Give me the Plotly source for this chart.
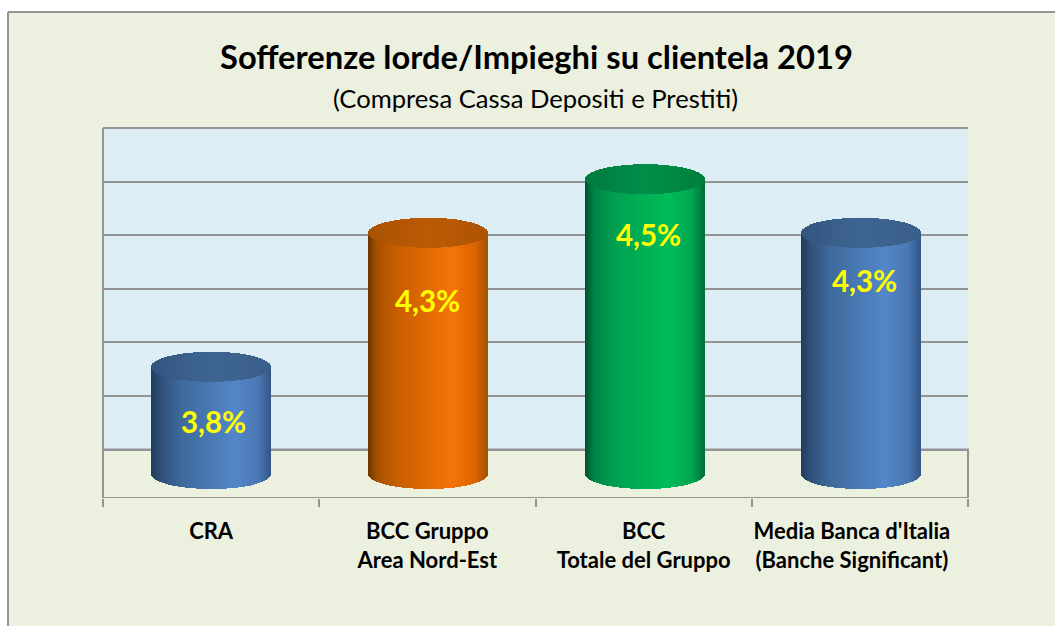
import numpy as np
import plotly.graph_objects as go

# ---- data ----
categories = ["CRA", "BCC Gruppo<br>Area Nord-Est", "BCC<br>Totale del Gruppo",
              "Media Banca d'Italia<br>(Banche Significant)"]
values = [3.8, 4.3, 4.5, 4.3]
value_labels = ["3,8%", "4,3%", "4,5%", "4,3%"]
title_text = "Sofferenze lorde/Impieghi su clientela 2019"
subtitle_text = "(Compresa Cassa Depositi e Prestiti)"

# ---- geometry / style ----
W, H = 1055, 626
PL, PR, PT, PB = 103, 968, 128, 498     # plot area in pixels
AXIS_BASE = 3.4
PX_PER_UNIT = 268.0
Y_MIN = AXIS_BASE - 24 / PX_PER_UNIT
Y_MAX = AXIS_BASE + 346 / PX_PER_UNIT
GRID_STEP = 0.2
grid_vals = [Y_MAX - GRID_STEP * k for k in range(7)]
BAR_W = 0.55
ELL = 15 / PX_PER_UNIT
N = 120
BAR_SHIFT = [0.002, 0.005, 0.008, 0.004]
TICK_POS = [0, 1, 2, 2.963]
GRID = "#949494"
BG = "#ecf0df"
WALL = "#dceef4"
FONT = "Lato, Carlito, Calibri, sans-serif"

label_shift = [-55, -68, -55, -48]     # pixel offset of label below the bar top
label_dx = [2, 0, 5, 5]

side_pos = [0, .08, .25, .7, .9, 1]
side_cols = [
    ["#223c5c", "#2f5079", "#3e6a9c", "#5387c9", "#4a78b3", "#36588a"],
    ["#6b3500", "#a85200", "#c95f00", "#f57409", "#dd6600", "#a65300"],
    ["#00532a", "#00854a", "#00a050", "#00bd5b", "#00a650", "#006f3c"],
    ["#223c5c", "#2f5079", "#3e6a9c", "#5387c9", "#4a78b3", "#36588a"],
]
top_cols = [
    ["#33557f", "#3f6693", "#3a5f8a"],
    ["#a85204", "#bd5b04", "#ad5504"],
    ["#007a3f", "#008f4a", "#00803f"],
    ["#33557f", "#3f6693", "#3a5f8a"],
]


def hex2rgb(c):
    return np.array([int(c[i:i + 2], 16) for i in (1, 3, 5)], float)


def ramp(ts, pos, cols):
    arr = np.array([hex2rgb(c) for c in cols])
    return [f"rgb({int(np.interp(t, pos, arr[:, 0]))},{int(np.interp(t, pos, arr[:, 1]))},"
            f"{int(np.interp(t, pos, arr[:, 2]))})" for t in ts]


fig = go.Figure()
ts = (np.arange(N) + 0.5) / N
u = 2 * ts - 1
arc = np.sqrt(1 - u ** 2)
for i, v in enumerate(values):
    xs = i + BAR_SHIFT[i] + u * BAR_W / 2
    ws = np.full(N, BAR_W / N * 1.4)
    # body: from the lower arc of the base up to the value
    base = AXIS_BASE - ELL * arc
    fig.add_trace(go.Bar(x=xs, y=v - base, base=base, width=ws,
                         marker=dict(color=ramp(ts, side_pos, side_cols[i]), line=dict(width=0)),
                         hoverinfo="skip", showlegend=False))
    # top face
    base_t = v - ELL * arc
    fig.add_trace(go.Bar(x=xs, y=2 * ELL * arc, base=base_t, width=ws,
                         marker=dict(color=ramp(ts, [0, .5, 1], top_cols[i]), line=dict(width=0)),
                         hoverinfo="skip", showlegend=False))


def px(x):
    return (x - PL) / (PR - PL)


def py(y):
    return (PB - y) / (PB - PT)


annotations = [
    dict(text=f"<b>{title_text}</b>", x=px(536), y=py(57), xref="paper", yref="paper", showarrow=False,
         font=dict(family=FONT, size=32.7, color="black"), xanchor="center", yanchor="middle"),
    dict(text=subtitle_text, x=px(535), y=py(98), xref="paper", yref="paper", showarrow=False,
         font=dict(family=FONT, size=25.6, color="black"), xanchor="center", yanchor="middle"),
]
for i, v in enumerate(values):
    annotations.append(dict(text=f"<b>{value_labels[i]}</b>", x=i, y=v, xref="x", yref="y",
                            xshift=label_dx[i], yshift=label_shift[i], showarrow=False,
                            font=dict(family=FONT, size=29.5, color="#ffff00"),
                            xanchor="center", yanchor="middle"))

shapes = [
    # floor
    dict(type="rect", xref="paper", yref="y", x0=0, x1=1, y0=Y_MIN, y1=grid_vals[-1],
         fillcolor=BG, line=dict(color=GRID, width=2), layer="below"),
    # wall top and left edge
    dict(type="line", xref="paper", yref="paper", x0=0, x1=1, y0=1, y1=1,
         line=dict(color=GRID, width=2), layer="below"),
    dict(type="line", xref="paper", yref="paper", x0=0, x1=0, y0=0, y1=1,
         line=dict(color=GRID, width=2), layer="below"),
    # white page edge and frame
    dict(type="rect", xref="paper", yref="paper", x0=px(0), x1=px(W), y0=py(0), y1=py(11.5),
         fillcolor="white", line=dict(width=0), layer="above"),
    dict(type="rect", xref="paper", yref="paper", x0=px(0), x1=px(7.5), y0=py(0), y1=py(H),
         fillcolor="white", line=dict(width=0), layer="above"),
    dict(type="line", xref="paper", yref="paper", x0=px(8), x1=px(W), y0=py(12), y1=py(12),
         line=dict(color=GRID, width=2), layer="above"),
    dict(type="line", xref="paper", yref="paper", x0=px(8), x1=px(8), y0=py(12), y1=py(H),
         line=dict(color=GRID, width=2), layer="above"),
]

fig.update_layout(
    width=W, height=H, autosize=False,
    margin=dict(l=PL, r=W - PR, t=PT, b=H - PB, pad=0),
    paper_bgcolor=BG, plot_bgcolor=WALL,
    barmode="overlay", bargap=0,
    showlegend=False,
    annotations=annotations, shapes=shapes,
    xaxis=dict(range=[-0.5, 3.5], tickmode="array", tickvals=TICK_POS,
               ticktext=[f"<b>{c}</b>".replace("<br>", "</b><br><b>") for c in categories],
               ticks="", showgrid=False, zeroline=False, showline=False,
               tickfont=dict(family=FONT, size=22, color="black"), ticklabelstandoff=18,
               minor=dict(tickmode="array", tickvals=[-0.5, 0.5, 1.5, 2.5, 3.5], ticks="outside",
                          ticklen=8, tickwidth=2, tickcolor=GRID, showgrid=False)),
    yaxis=dict(range=[Y_MIN, Y_MAX], tickmode="array", tickvals=grid_vals, showticklabels=False,
               ticks="", showgrid=True, gridcolor=GRID, gridwidth=2, zeroline=False, showline=False),
)

fig.write_html("out.html", config=dict(displayModeBar=False),
               post_script="document.body.style.margin='0';document.body.style.overflow='hidden';"
                           "document.body.style.fontVariantLigatures='none';")
